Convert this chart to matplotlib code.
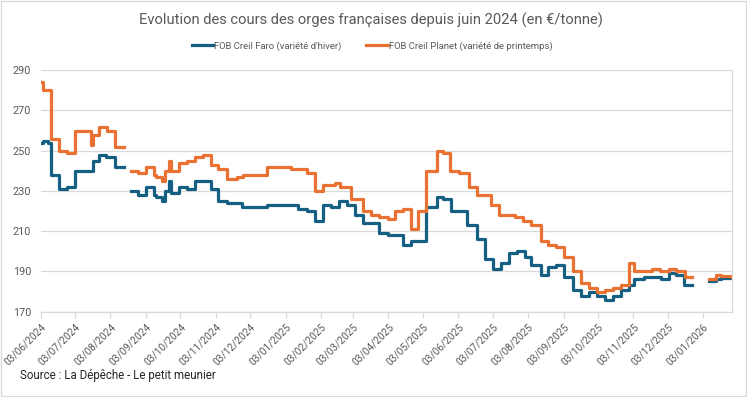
import matplotlib
matplotlib.use('Agg')
import matplotlib.pyplot as plt
import matplotlib.dates as mdates
import numpy as np
import pandas as pd

nan = np.nan

# FOB Creil Faro (winter barley), weekly price changes, NaN = gap in data
faro_dates = [
    '2024-06-03', '2024-06-05', '2024-06-09', '2024-06-12', '2024-06-19', '2024-06-26',
    '2024-07-03', '2024-07-19', '2024-07-24', '2024-07-30', '2024-08-07', '2024-08-15',
    '2024-08-21', '2024-08-27', '2024-09-03', '2024-09-10', '2024-09-12', '2024-09-17',
    '2024-09-20', '2024-09-23', '2024-09-25', '2024-10-02', '2024-10-09', '2024-10-16',
    '2024-10-30', '2024-11-05', '2024-11-13', '2024-11-26', '2024-12-18', '2025-01-14',
    '2025-01-22', '2025-01-29', '2025-02-05', '2025-02-12', '2025-02-19', '2025-02-26',
    '2025-03-05', '2025-03-12', '2025-03-26', '2025-04-03', '2025-04-16', '2025-04-23',
    '2025-05-06', '2025-05-15', '2025-05-21', '2025-05-28', '2025-06-11', '2025-06-19',
    '2025-06-26', '2025-07-03', '2025-07-10', '2025-07-17', '2025-07-24', '2025-07-31',
    '2025-08-06', '2025-08-14', '2025-08-20', '2025-08-27', '2025-09-03', '2025-09-11',
    '2025-09-18', '2025-09-25', '2025-10-02', '2025-10-09', '2025-10-16', '2025-10-23',
    '2025-10-30', '2025-11-04', '2025-11-12', '2025-11-27', '2025-12-04', '2025-12-10',
    '2025-12-17', '2025-12-24',
    '2026-01-08', '2026-01-14', '2026-01-19', '2026-01-28',
]
faro_prices = [
    254, 255, 254, 238, 231, 232,
    240, 245, 248, 247, 242, nan,
    230, 228, 232, 228, 227, 225,
    230, 235, 229, 232, 231, 235,
    231, 225, 224, 222, 223, 221,
    220, 215, 223, 222, 225, 223,
    218, 214, 209, 208, 203, 205,
    222, 227, 226, 220, 213, 206,
    196, 191, 194, 199, 200, 197,
    193, 188, 192, 193, 187, 181,
    178, 180, 178, 176, 178, 181,
    183, 186, 187, 186, 189, 188,
    183, nan,
    185, 186, 186.5, 187,
]

# FOB Creil Planet (spring barley)
planet_dates = [
    '2024-06-03', '2024-06-05', '2024-06-12', '2024-06-19', '2024-06-26', '2024-07-03',
    '2024-07-17', '2024-07-19', '2024-07-24', '2024-07-31', '2024-08-07', '2024-08-15',
    '2024-08-21', '2024-08-27', '2024-09-03', '2024-09-10', '2024-09-12', '2024-09-17',
    '2024-09-20', '2024-09-23', '2024-09-25', '2024-10-02', '2024-10-09', '2024-10-16',
    '2024-10-23', '2024-10-30', '2024-11-05', '2024-11-13', '2024-11-22', '2024-11-27',
    '2024-12-18', '2025-01-08', '2025-01-22', '2025-01-29', '2025-02-05', '2025-02-15',
    '2025-02-20', '2025-03-01', '2025-03-12', '2025-03-19', '2025-03-26', '2025-04-03',
    '2025-04-09', '2025-04-16', '2025-04-23', '2025-04-29', '2025-05-06', '2025-05-15',
    '2025-05-21', '2025-05-27', '2025-06-04', '2025-06-12', '2025-06-19', '2025-07-02',
    '2025-07-09', '2025-07-23', '2025-07-30', '2025-08-06', '2025-08-14', '2025-08-20',
    '2025-08-27', '2025-09-03', '2025-09-11', '2025-09-18', '2025-09-25', '2025-10-02',
    '2025-10-09', '2025-10-16', '2025-10-23', '2025-10-30', '2025-11-04', '2025-11-19',
    '2025-11-26', '2025-12-04', '2025-12-10', '2025-12-18', '2025-12-24',
    '2026-01-08', '2026-01-14', '2026-01-19', '2026-01-28',
]
planet_prices = [
    284, 280, 256, 250, 249, 260,
    253, 258, 262, 260, 252, nan,
    240, 239, 242, 238, 237, 235,
    240, 245, 240, 244, 245, 247,
    248, 243, 241, 236, 237, 238,
    242, 241, 239, 230, 233, 234,
    232, 226, 220, 218, 217, 216,
    220, 221, 211, 220, 240, 250,
    249, 240, 239, 232, 228, 223,
    218, 217, 215, 213, 205, 203,
    202, 197, 190, 184, 182, 180,
    181, 182, 183, 194, 190, 191,
    190, 191, 190, 187, nan,
    186, 188, 187.5, 187,
]

series_labels = ["FOB Creil Faro (variété d'hiver)", "FOB Creil Planet (variété de printemps)"]
colors = ['#156082', '#E97132']
grey = '#595959'

plt.rcParams['font.family'] = ['Roboto', 'DejaVu Sans']

fig = plt.figure(figsize=(7.47, 3.97), dpi=100)
ax = fig.add_axes([0.0545, 0.215, 0.925, 0.608])

ax.plot(pd.to_datetime(faro_dates), faro_prices, drawstyle='steps-post',
        color=colors[0], lw=2.3, label=series_labels[0])
ax.plot(pd.to_datetime(planet_dates), planet_prices, drawstyle='steps-post',
        color=colors[1], lw=2.3, label=series_labels[1])

ax.set_xlim(pd.Timestamp('2024-06-03'), pd.Timestamp('2026-01-28'))
ax.set_ylim(170, 290)
ax.set_yticks(np.arange(170, 291, 20))
ax.grid(axis='y', color='#D9D9D9', lw=0.9)
ax.set_axisbelow(True)

ax.xaxis.set_major_locator(mdates.MonthLocator(bymonthday=3))
ax.xaxis.set_major_formatter(mdates.DateFormatter('%d/%m/%Y'))
for lbl in ax.get_xticklabels():
    lbl.set_rotation(45)
    lbl.set_ha('right')
    lbl.set_rotation_mode('anchor')

ax.tick_params(axis='x', colors='#D9D9D9', labelcolor=grey, labelsize=7.3, length=4, width=0.9)
ax.tick_params(axis='y', length=0, labelcolor=grey, labelsize=7.8, pad=7)

for s in ['top', 'left']:
    ax.spines[s].set_visible(False)
for s in ['bottom', 'right']:
    ax.spines[s].set_color('#D9D9D9')
    ax.spines[s].set_linewidth(0.9)

fig.text(0.497, 0.948, 'Evolution des cours des orges françaises depuis juin 2024 (en €/tonne)',
         ha='center', va='center', fontsize=10.6, color=grey)
fig.legend(loc='center', bbox_to_anchor=(0.498, 0.884), ncol=2, frameon=False,
           fontsize=6.8, labelcolor=grey, handlelength=2.3, handletextpad=0.1,
           columnspacing=2.6)
fig.text(0.027, 0.055, 'Source : La Dépêche - Le petit meunier', ha='left', va='center',
         fontsize=8.3, color='#262626')

# light chart border
fig.patches.append(plt.Rectangle((0.002, 0.002), 0.996, 0.995, transform=fig.transFigure,
                                 fill=False, edgecolor='#D9D9D9', lw=1))

plt.savefig('out.png', dpi=100)
